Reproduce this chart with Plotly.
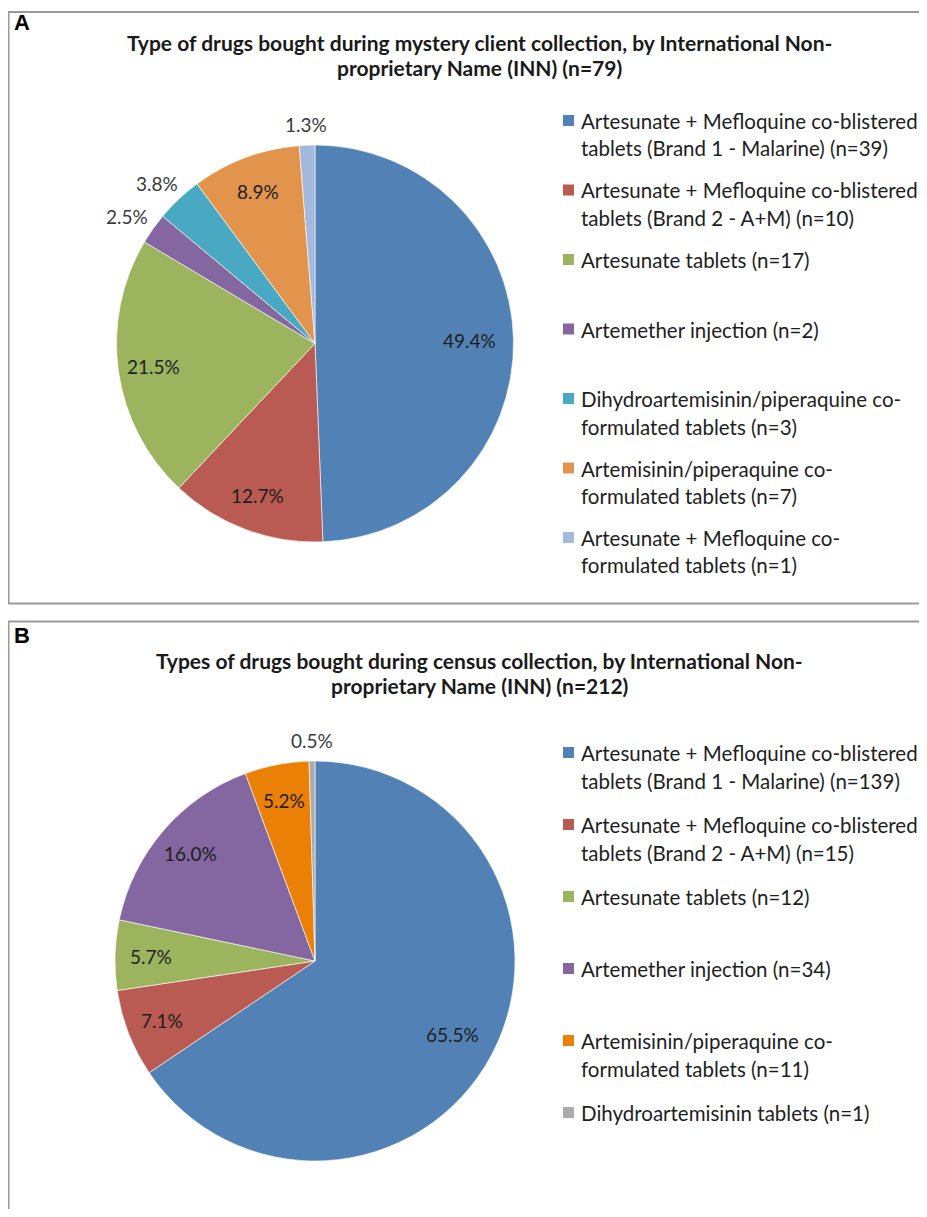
import math
import plotly.graph_objects as go

# The page body adds an 8px margin, so the figure is drawn 8px in from the window edge.
OFF = 8
W, H = 927 - 2 * OFF, 1217 - 2 * OFF

# ---------------- Data ----------------
labels_a = [
    "Artesunate + Mefloquine co-blistered tablets (Brand 1 - Malarine)",
    "Artesunate + Mefloquine co-blistered tablets (Brand 2 - A+M)",
    "Artesunate tablets",
    "Artemether injection",
    "Dihydroartemisinin/piperaquine co-formulated tablets",
    "Artemisinin/piperaquine co-formulated tablets",
    "Artesunate + Mefloquine co-formulated tablets",
]
counts_a = [39, 10, 17, 2, 3, 7, 1]
pct_a = ["49.4%", "12.7%", "21.5%", "2.5%", "3.8%", "8.9%", "1.3%"]
legend_a = [
    "Artesunate + Mefloquine co-blistered<br>tablets (Brand 1 - Malarine) (n=39)",
    "Artesunate + Mefloquine co-blistered<br>tablets (Brand 2 - A+M) (n=10)",
    "Artesunate tablets (n=17)",
    "Artemether injection (n=2)",
    "Dihydroartemisinin/piperaquine co-<br>formulated tablets (n=3)",
    "Artemisinin/piperaquine co-<br>formulated tablets (n=7)",
    "Artesunate + Mefloquine co-<br>formulated tablets (n=1)",
]
title_a = ["Type of drugs bought during mystery client collection, by International Non-",
           "proprietary Name (INN) (n=79)"]

labels_b = [
    "Artesunate + Mefloquine co-blistered tablets (Brand 1 - Malarine)",
    "Artesunate + Mefloquine co-blistered tablets (Brand 2 - A+M)",
    "Artesunate tablets",
    "Artemether injection",
    "Artemisinin/piperaquine co-formulated tablets",
    "Dihydroartemisinin tablets",
]
counts_b = [139, 15, 12, 34, 11, 1]
pct_b = ["65.5%", "7.1%", "5.7%", "16.0%", "5.2%", "0.5%"]
legend_b = [
    "Artesunate + Mefloquine co-blistered<br>tablets (Brand 1 - Malarine) (n=139)",
    "Artesunate + Mefloquine co-blistered<br>tablets (Brand 2 - A+M) (n=15)",
    "Artesunate tablets (n=12)",
    "Artemether injection (n=34)",
    "Artemisinin/piperaquine co-<br>formulated tablets (n=11)",
    "Dihydroartemisinin tablets (n=1)",
]
title_b = ["Types of drugs bought during census collection, by International Non-",
           "proprietary Name (INN) (n=212)"]

# ---------------- Styles ----------------
colors_a = ["#5282B5", "#B95A53", "#9CB45D", "#8467A0", "#49A9C3", "#E3944C", "#A3BADD"]
colors_b = ["#5282B5", "#B95A53", "#9CB45D", "#8467A0", "#EB8006", "#ABABAB"]
outside_a = [False, False, False, True, True, False, True]
outside_b = [False, False, False, False, False, True]

FONT = "Lato"
LBL_SIZE = 19
LEG_SIZE = 20.5
TITLE_SIZE = 21


def px_x(x):
    return (x - OFF) / W


def px_y(y):
    return 1 - (y - OFF) / H


def pie_domain(cx, cy, r):
    return dict(x=[px_x(cx - r), px_x(cx + r)], y=[px_y(cy + r), px_y(cy - r)])


fig = go.Figure()
shapes = []
annotations = []

pies = [
    (labels_a, counts_a, pct_a, colors_a, outside_a, (315, 343.5, 198.5)),
    (labels_b, counts_b, pct_b, colors_b, outside_b, (315, 961, 200)),
]

for labels, counts, pct, cols, outside, (cx, cy, r) in pies:
    fig.add_trace(go.Pie(
        labels=labels, values=counts, textinfo="none",
        sort=False, direction="clockwise", rotation=0,
        marker=dict(colors=cols, line=dict(color="rgba(255,255,255,0.6)", width=1)),
        domain=pie_domain(cx, cy, r), showlegend=False, hoverinfo="label+value",
    ))
    # data labels placed along each slice's mid-angle (derived from the values)
    total = float(sum(counts))
    cum = 0.0
    for v, t, out in zip(counts, pct, outside):
        theta = 2 * math.pi * (cum + v / 2.0) / total
        cum += v
        sx, sy = math.sin(theta), -math.cos(theta)
        if out:
            d = r + 10
            lx = cx + sx * d + sx * 22
            ly = cy + sy * d + sy * 11
            col = "#3a3a3a"
        else:
            d = (0.78 if v / total > 0.3 else 0.82) * r
            lx, ly = cx + sx * d, cy + sy * d
            col = "#1e1e1e"
        annotations.append(dict(text=t, x=px_x(lx), y=px_y(ly), xref="paper", yref="paper",
                                xanchor="center", yanchor="middle", showarrow=False,
                                font=dict(family=FONT, size=LBL_SIZE, color=col)))

# panel frames
for y0, y1 in [(12, 603.5), (621.5, 1260)]:
    shapes.append(dict(type="rect", xref="paper", yref="paper",
                       x0=px_x(8.5), x1=px_x(960), y0=px_y(y1), y1=px_y(y0),
                       line=dict(color="#9a9a9a", width=2), fillcolor="rgba(0,0,0,0)"))

# panel letters
for letter, y in [("A", 23), ("B", 635)]:
    annotations.append(dict(text="<b>%s</b>" % letter, x=px_x(12), y=px_y(y), xref="paper", yref="paper",
                            xanchor="left", yanchor="middle", showarrow=False,
                            font=dict(family="Liberation Sans", size=22, color="#000")))

# titles
for lines, y0 in [(title_a, 43), (title_b, 660)]:
    for i, t in enumerate(lines):
        annotations.append(dict(text="<b>%s</b>" % t, x=px_x(479), y=px_y(y0 + i * 25),
                                xref="paper", yref="paper", xanchor="center", yanchor="middle",
                                showarrow=False, font=dict(family=FONT, size=TITLE_SIZE, color="#1a1a1a")))

# legends
for items, cols, y_first, step in [(legend_a, colors_a, 121, 69.5), (legend_b, colors_b, 753, 72)]:
    for k, (txt, c) in enumerate(zip(items, cols)):
        yc = y_first + k * step
        shapes.append(dict(type="rect", xref="paper", yref="paper",
                           x0=px_x(563), x1=px_x(574), y0=px_y(yc + 5), y1=px_y(yc - 6),
                           line=dict(width=0), fillcolor=c))
        for j, line in enumerate(txt.split("<br>")):
            annotations.append(dict(text=line, x=px_x(579), y=px_y(yc + j * 27.5),
                                    xref="paper", yref="paper", xanchor="left", yanchor="middle",
                                    showarrow=False,
                                    font=dict(family=FONT, size=LEG_SIZE, color="#1e1e1e")))

fig.update_layout(
    width=W, height=H, margin=dict(l=0, r=0, t=0, b=0),
    paper_bgcolor="white", plot_bgcolor="white",
    shapes=shapes, annotations=annotations,
)

fig.write_html("out.html")
